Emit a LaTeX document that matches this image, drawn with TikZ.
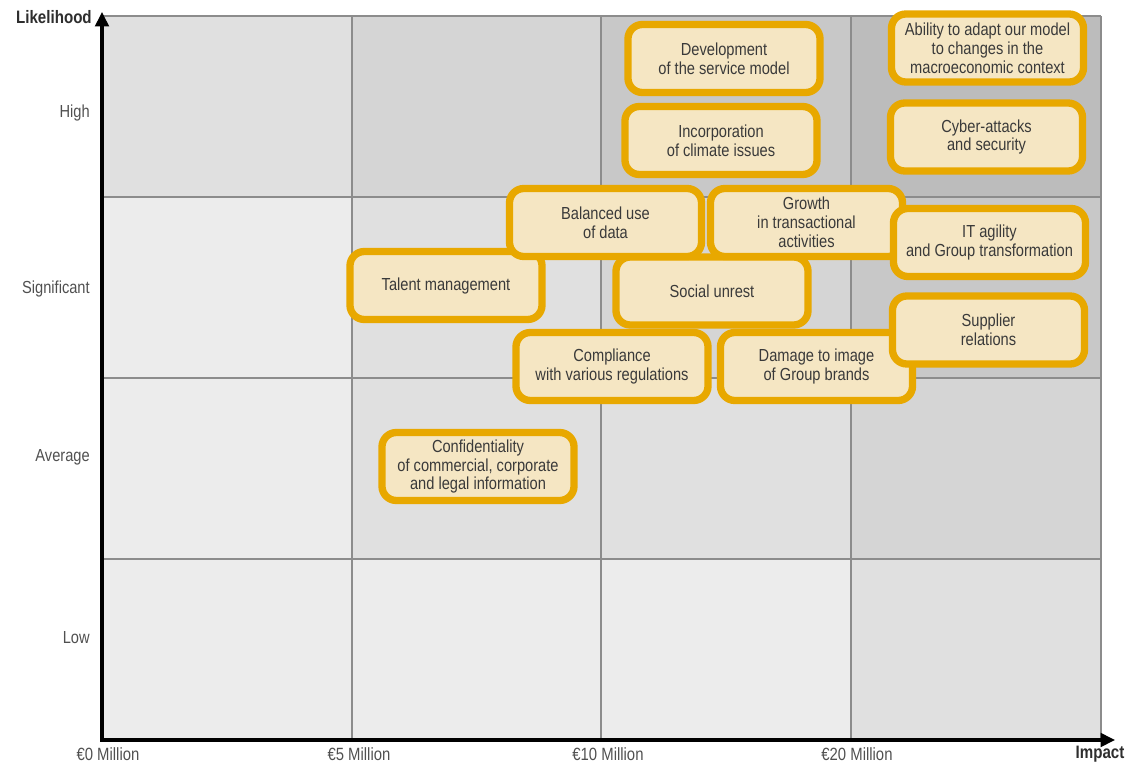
\documentclass[tikz,border=0pt]{standalone}
\usepackage{fontspec}
\setmainfont{Liberation Sans}[FakeStretch=0.84]
\usetikzlibrary{arrows.meta}

% shades of the risk grid, lightest to darkest
\definecolor{lvA}{HTML}{ECECEC}
\definecolor{lvB}{HTML}{E0E0E0}
\definecolor{lvC}{HTML}{D5D5D5}
\definecolor{lvD}{HTML}{C8C8C8}
\definecolor{lvE}{HTML}{BCBCBC}
\definecolor{gridgray}{HTML}{8C8C8C}
\definecolor{riskfill}{HTML}{F5E6C3}
\definecolor{riskedge}{HTML}{E8A800}
\definecolor{boxtext}{HTML}{3A3A3A}
\definecolor{axislabel}{HTML}{505050}
\definecolor{axistitle}{HTML}{2E2E2E}

\begin{document}
\begin{tikzpicture}[x=0.025cm, y=-0.025cm,
  gridline/.style={draw=gridgray, line width=1.1pt},
  axisline/.style={draw=black, line width=2.2pt, -{Triangle[length=0.36cm, width=0.34cm]}},
  riskbox/.style={draw=riskedge, fill=riskfill, line width=5.2pt,
    rounded corners=0.36cm, minimum width=4.8cm, minimum height=1.7cm,
    inner sep=0pt, align=center, text=boxtext,
    font=\fontsize{12.4}{13.4}\selectfont},
  levellabel/.style={anchor=east, text=axislabel, inner sep=0pt,
    font=\fontsize{12.4}{13.4}\selectfont},
  ticklabel/.style={text=axislabel, inner sep=0pt,
    font=\fontsize{12.6}{13.4}\selectfont},
  axistitlelabel/.style={text=axistitle, inner sep=0pt,
    font=\fontsize{12.8}{13.4}\selectfont\bfseries}]

\useasboundingbox (0,0) rectangle (1133,769);

% shaded cells: likelihood rows (top to bottom) x impact columns
\foreach \xa/\xb/\ya/\yb/\shade in {
  102/352/16/197/lvB, 352/601/16/197/lvC, 601/851/16/197/lvD, 851/1101/16/197/lvE,
  102/352/197/378/lvA, 352/601/197/378/lvB, 601/851/197/378/lvC, 851/1101/197/378/lvD,
  102/352/378/559/lvA, 352/601/378/559/lvB, 601/851/378/559/lvB, 851/1101/378/559/lvC,
  102/352/559/740/lvA, 352/601/559/740/lvA, 601/851/559/740/lvA, 851/1101/559/740/lvB}
  \fill[\shade] (\xa,\ya) rectangle (\xb,\yb);

% grid lines
\foreach \gx in {352,601,851,1101}
  \draw[gridline] (\gx,16) -- (\gx,740);
\foreach \gy in {16,197,378,559}
  \draw[gridline] (102,\gy) -- (1101,\gy);

% axes
\coordinate (origin) at (102,741.5);
\coordinate (ytip) at (102,12);
\coordinate (xbase) at (100.5,740);
\coordinate (xtip) at (1115,740);
\draw[axisline] (origin) -- (ytip);
\draw[axisline] (xbase) -- (xtip);

% axis titles
\node[axistitlelabel, anchor=east] (ytitle) at (92,17) {Likelihood};
\node[axistitlelabel] (xtitle) at (1100,754) {Impact};

% likelihood levels
\node[levellabel] (lhigh) at (90,113) {High};
\node[levellabel] (lsig) at (90,289) {Significant};
\node[levellabel] (lavg) at (90,457) {Average};
\node[levellabel] (llow) at (90,638) {Low};

% impact levels
\node[ticklabel] (t0) at (108,754) {€0 Million};
\node[ticklabel] (t5) at (359,754) {€5 Million};
\node[ticklabel] (t10) at (608,754) {€10 Million};
\node[ticklabel] (t20) at (857,754) {€20 Million};

% risks
\node[riskbox] (talent) at (446,285.5) {Talent management};
\node[riskbox] (unrest) at (712,291) {Social unrest};
\node[riskbox] (data) at (605.5,222.5) {Balanced use\\of data};
\node[riskbox] (growth) at (806.5,222.5) {Growth\\in transactional\\activities};
\node[riskbox] (compliance) at (612,366.5) {Compliance\\with various regulations};
\node[riskbox] (brands) at (816.5,366.5) {Damage to image\\of Group brands};
\node[riskbox] (itagility) at (989.5,242.5) {IT agility\\and Group transformation};
\node[riskbox] (supplier) at (988.5,330) {Supplier\\relations};
\node[riskbox] (service) at (724,58.5) {Development\\of the service model};
\node[riskbox] (climate) at (721,140.5) {Incorporation\\of climate issues};
\node[riskbox] (adapt) at (987.5,48) {Ability to adapt our model\\to changes in the\\macroeconomic context};
\node[riskbox] (cyber) at (986.5,137) {Cyber-attacks\\and security};
\node[riskbox] (confid) at (478,466.5) {Confidentiality\\of commercial, corporate\\and legal information};

\end{tikzpicture}
\end{document}
